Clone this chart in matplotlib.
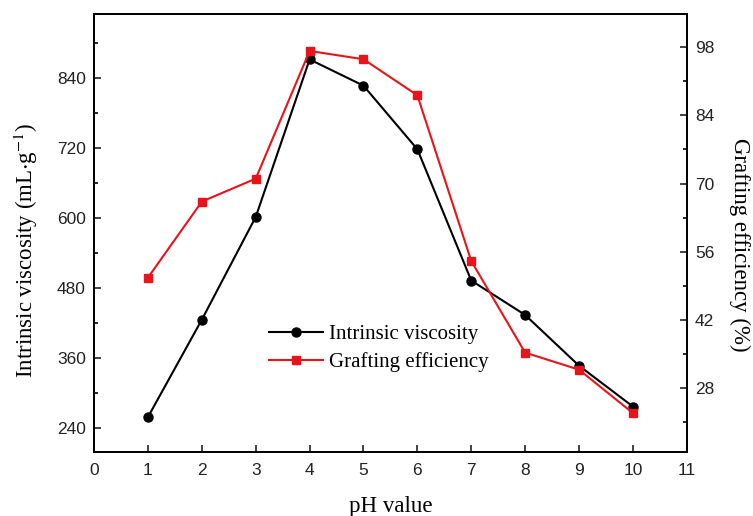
import numpy as np
from matplotlib import pyplot as plt

# data
ph = [1, 2, 3, 4, 5, 6, 7, 8, 9, 10]
viscosity = [259, 426, 602, 872, 827, 718, 493, 434, 347, 277]
grafting = [50.7, 66.3, 71.0, 97.2, 95.5, 88.1, 54.1, 35.3, 31.8, 22.9]

x_ticks = list(range(0, 12))
visc_ticks = [240, 360, 480, 600, 720, 840]
graft_ticks = [28, 42, 56, 70, 84, 98]

plt.rcParams['font.family'] = ['Liberation Sans', 'DejaVu Sans']
plt.rcParams['mathtext.fontset'] = 'stix'
label_font = 'Liberation Serif'

fig, ax = plt.subplots(figsize=(7.53, 5.16), dpi=100)
fig.subplots_adjust(left=0.125, right=0.912, top=0.973, bottom=0.124)
ax2 = ax.twinx()

l1, = ax.plot(ph, viscosity, color='black', lw=1.5, marker='o', ms=6.5,
              label='Intrinsic viscosity')
l2, = ax2.plot(ph, grafting, color='#e8141b', lw=1.5, marker='s', ms=6,
               label='Grafting efficiency')

ax.set_xlim(0, 11)
ax.set_ylim(199, 950)
ax2.set_ylim(14.9, 104.8)

ax.set_xticks(x_ticks)
ax.set_yticks(visc_ticks)
ax.set_yticks([v + 60 for v in visc_ticks], minor=True)
ax2.set_yticks(graft_ticks)
ax2.set_yticks([v - 7 for v in graft_ticks], minor=True)

for a in (ax, ax2):
    a.tick_params(which='major', direction='in', length=5, width=1.2,
                  labelsize=12.5, colors='#222222')
    a.tick_params(which='minor', direction='in', length=3, width=1.2)
    for sp in a.spines.values():
        sp.set_linewidth(1.3)
ax.tick_params(axis='x', pad=8)
ax.tick_params(axis='y', pad=6)
ax2.tick_params(axis='y', pad=6)

# the reference crops this label at the bottom edge; keep it just inside
ax.set_xlabel('pH value', fontsize=16.5, family=label_font, labelpad=13)
ax.set_ylabel(r'Intrinsic viscosity (mL$\cdot$g$^{-1}$)', fontsize=16.5,
              family=label_font)
ax.yaxis.set_label_coords(-0.092, 0.461)
ax2.set_ylabel('Grafting efficiency (%)', fontsize=16.5, family=label_font,
               rotation=270, va='center')
ax2.yaxis.set_label_coords(1.09, 0.473)

ax2.legend(handles=[l1, l2], loc='center left', bbox_to_anchor=(0.263, 0.237),
           frameon=False, handlelength=2.6, handletextpad=0.3,
           labelspacing=0.4, prop={'family': label_font, 'size': 15})

fig.savefig('out.png', dpi=100)
